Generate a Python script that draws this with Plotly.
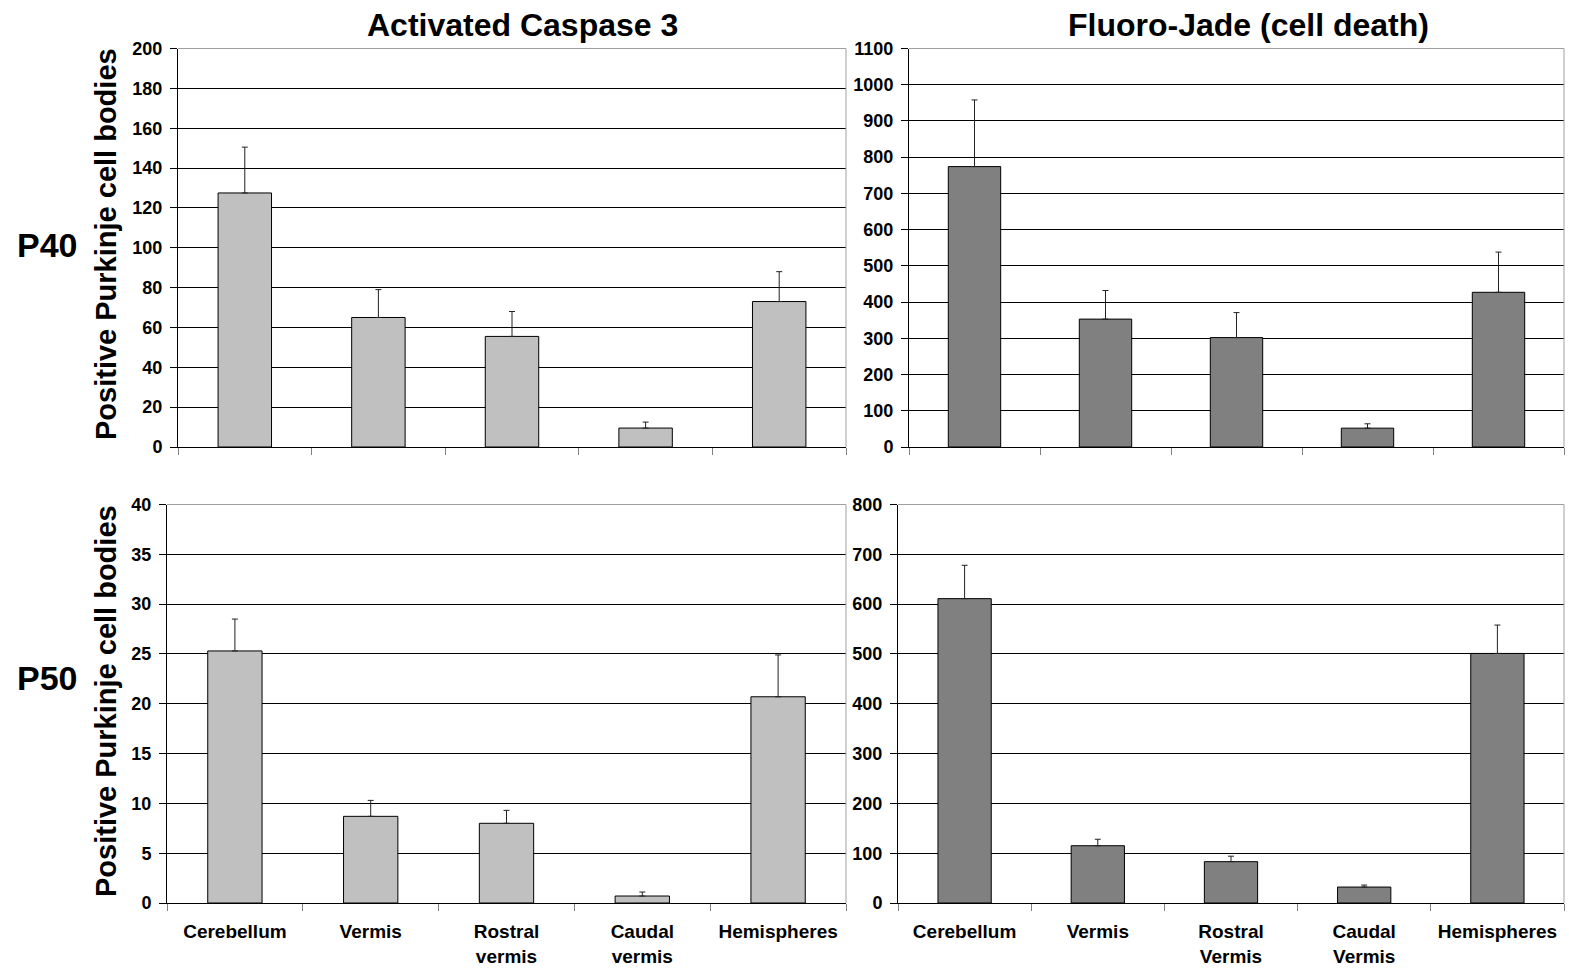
import plotly.graph_objects as go

# Regions of the cerebellum (two label spellings, one per stain)
regions_caspase = ["Cerebellum", "Vermis", "Rostral<br>vermis", "Caudal<br>vermis", "Hemispheres"]
regions_fluoro = ["Cerebellum", "Vermis", "Rostral<br>Vermis", "Caudal<br>Vermis", "Hemispheres"]

# Positive Purkinje cell bodies: means and SEM
caspase_p40 = [127.5, 65.0, 55.5, 9.5, 73.0]
caspase_p40_sem = [23.0, 14.0, 12.5, 3.0, 15.0]
fluoro_p40 = [774, 353, 302, 52, 427]
fluoro_p40_sem = [184, 79, 69, 12, 111]
caspase_p50 = [25.3, 8.7, 8.0, 0.7, 20.7]
caspase_p50_sem = [3.2, 1.6, 1.3, 0.4, 4.2]
fluoro_p50 = [611, 115, 83, 32, 501]
fluoro_p50_sem = [67, 13, 11, 4, 57]

W, H = 1569, 968
FONT = "Liberation Sans, Arial, sans-serif"
LIGHT = "#C0C0C0"
DARK = "#808080"


def px_x(v):
    return v / W


def px_y(v):
    return 1 - v / H


panels = [
    # (x categories, values, sem, color, xaxis id, yaxis id, y max, y step, x domain px, y domain px, show labels)
    (regions_caspase, caspase_p40, caspase_p40_sem, LIGHT, "x", "y", 200, 20, (178, 846), (48.5, 447), False),
    (regions_fluoro, fluoro_p40, fluoro_p40_sem, DARK, "x2", "y2", 1100, 100, (909, 1564), (48.5, 447), False),
    (regions_caspase, caspase_p50, caspase_p50_sem, LIGHT, "x3", "y3", 40, 5, (167, 846), (504.5, 903), True),
    (regions_fluoro, fluoro_p50, fluoro_p50_sem, DARK, "x4", "y4", 800, 100, (898, 1564), (504.5, 903), True),
]

fig = go.Figure()
layout = dict(
    width=W, height=H,
    margin=dict(l=0, r=0, t=0, b=0, autoexpand=False),
    paper_bgcolor="white", plot_bgcolor="white",
    showlegend=False,
    font=dict(family=FONT, color="black"),
)
shapes = []

for cats, vals, sem, color, xa, ya, ymax, step, xd, yd, show_labels in panels:
    fig.add_trace(go.Bar(
        x=cats, y=vals, width=0.4,
        marker=dict(color=color, line=dict(color="black", width=1)),
        error_y=dict(type="data", array=sem, arrayminus=[0] * len(sem), symmetric=False,
                     color="#222222", thickness=1, width=3),
        xaxis=xa, yaxis=ya,
    ))
    xkey = "xaxis" + xa[1:]
    ykey = "yaxis" + ya[1:]
    layout[xkey] = dict(
        domain=[px_x(xd[0]), px_x(xd[1])],
        anchor=ya,
        type="category",
        tickson="boundaries",
        ticks="outside", ticklen=7, tickcolor="#808080", tickwidth=1,
        showline=True, linecolor="black", linewidth=1,
        showgrid=False,
        showticklabels=show_labels,
        tickfont=dict(family=FONT, size=19, weight="bold", color="black"),
        ticklabelstandoff=11,
        automargin=False,
        fixedrange=True,
    )
    layout[ykey] = dict(
        domain=[px_y(yd[1]), px_y(yd[0])],
        anchor=xa,
        range=[0, ymax], dtick=step, tick0=0,
        ticks="outside", ticklen=7, tickcolor="black", tickwidth=1,
        showline=True, linecolor="black", linewidth=1,
        showgrid=True, gridcolor="black", gridwidth=1,
        zeroline=False,
        tickfont=dict(family=FONT, size=18, weight="bold", color="black"),
        ticklabelstandoff=4,
        automargin=False,
        fixedrange=True,
    )
    # light plot-area frame on the top and right edges
    shapes.append(dict(type="line", xref=xa + " domain", yref=ya + " domain",
                       x0=0, x1=1, y0=1, y1=1, line=dict(color="#A0A0A0", width=1)))
    shapes.append(dict(type="line", xref=xa + " domain", yref=ya + " domain",
                       x0=1, x1=1, y0=0, y1=1, line=dict(color="#A0A0A0", width=1)))

annotations = [
    dict(text="<b>Activated Caspase 3</b>", x=px_x(522), y=px_y(25)),
    dict(text="<b>Fluoro-Jade (cell death)</b>", x=px_x(1248), y=px_y(25)),
]
for a in annotations:
    a.update(xref="paper", yref="paper", showarrow=False, xanchor="center", yanchor="middle",
             font=dict(family=FONT, size=32, color="black"))

for label, yc in (("P40", 245), ("P50", 678)):
    annotations.append(dict(text="<b>" + label + "</b>", x=px_x(47), y=px_y(yc),
                            xref="paper", yref="paper", showarrow=False,
                            xanchor="center", yanchor="middle",
                            font=dict(family=FONT, size=34, color="black")))

for yc in (244, 701):
    annotations.append(dict(text="<b>Positive Purkinje cell bodies</b>", x=px_x(106), y=px_y(yc),
                            xref="paper", yref="paper", showarrow=False, textangle=-90,
                            xanchor="center", yanchor="middle",
                            font=dict(family=FONT, size=29, color="black")))

layout["annotations"] = annotations
layout["shapes"] = shapes
fig.update_layout(**layout)

fig.write_html("out.html")
